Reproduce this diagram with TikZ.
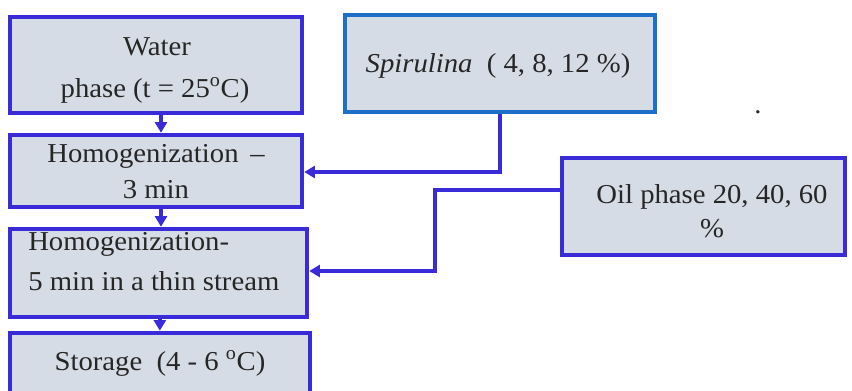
\documentclass[tikz,border=0pt]{standalone}
\usepackage{fontspec}
\setmainfont{Liberation Serif}[FakeStretch=1.05]
\usetikzlibrary{arrows.meta}
\definecolor{bordblue}{HTML}{3A2BD9}
\definecolor{spirblue}{HTML}{1E6FC8}
\definecolor{boxfill}{HTML}{D6DCE5}
\definecolor{txt}{HTML}{262626}
\tikzset{
  box/.style={draw=bordblue, line width=3.4pt, fill=boxfill, rectangle, inner sep=0pt},
  lbl/.style={anchor=base, inner sep=0pt, text=txt, font=\fontsize{20.5pt}{24pt}\selectfont},
  arr/.style={draw=bordblue, line width=2.7pt, -{Triangle[length=8pt,width=9pt]}},
}
\begin{document}
\begin{tikzpicture}[x=0.75pt,y=-0.75pt]
\useasboundingbox (0,0) rectangle (852,390);
\clip (0,0) rectangle (852,390);
% boxes
\node[box, minimum width=219pt, minimum height=72pt] (box1) at (156,65) {};
\node[box, minimum width=219pt, minimum height=54pt] (box2) at (156,171) {};
\node[box, minimum width=222.75pt, minimum height=66pt] (box3) at (158.5,273) {};
\node[box, minimum width=225pt, minimum height=60pt] (box4) at (160,373) {};
\node[box, draw=spirblue, minimum width=232.5pt, minimum height=72.75pt] (spir) at (500,63.5) {};
\node[box, minimum width=212.25pt, minimum height=72.75pt] (oil) at (703.5,206.5) {};
% texts
\node[lbl] (t1a) at (157,55) {Water};
\node[lbl] (t1b) at (155,97) {phase (t = 25\textsuperscript{o}C)};
\node[lbl] (t2a) at (156,162) {Homogenization \,--};
\node[lbl] (t2b) at (156,198) {3 min};
\node[lbl, anchor=base west] (t3a) at (28,250) {Homogenization-};
\node[lbl, anchor=base west] (t3b) at (28,290) {5 min in a thin stream};
\node[lbl] (t4) at (160,370) {Storage\ \ (4 - 6 \textsuperscript{o}C)};
\node[lbl] (ts) at (498,72) {\textit{Spirulina}\ \ ( 4, 8, 12 \%)};
\node[lbl] (toa) at (712,203) {Oil phase 20, 40, 60};
\node[lbl] (tob) at (712,237) {\%};
\node[lbl] (dot) at (758,113) {.};
% connectors
\draw[arr] ([xshift=3.75pt]box1.south) -- ([xshift=3.75pt]box2.north);
\draw[arr] ([xshift=3.75pt]box2.south) -- ([xshift=3.75pt]box2.south |- box3.north);
\draw[arr] ([xshift=1pt]box3.south) -- ([xshift=1pt]box3.south |- box4.north);
\draw[arr] (spir.south) |- ([yshift=-0.75pt]box2.east);
\draw[arr] ([yshift=12.4pt]oil.west) -- ++(-125,0) |- ([yshift=1.5pt]box3.east);
\end{tikzpicture}
\end{document}
